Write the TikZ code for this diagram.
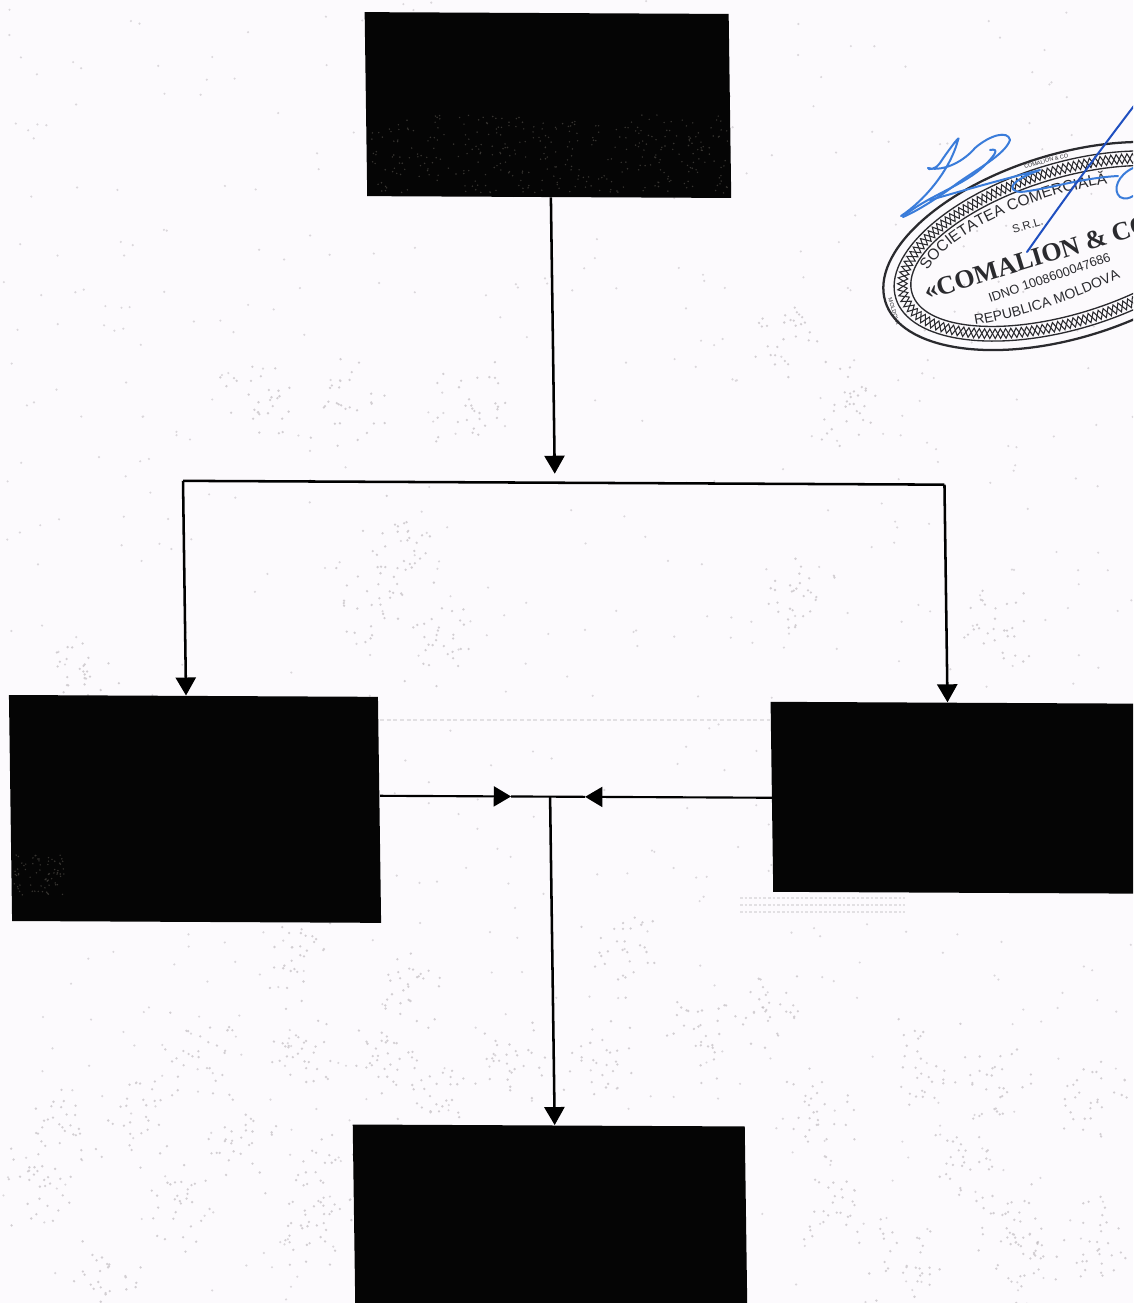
\documentclass[tikz,border=0pt]{standalone}
\usepackage{fontspec}
\setmainfont{Liberation Sans}
\newfontfamily\stampserif{Liberation Serif}
\usetikzlibrary{arrows.meta,decorations.text,decorations.pathmorphing}
\definecolor{paper}{HTML}{FCFAFD}
\definecolor{speck}{HTML}{A9A4A8}
\definecolor{boxink}{HTML}{050505}
\definecolor{boxspeck}{HTML}{5A5650}
\definecolor{sigblue}{HTML}{3A7CDA}
\definecolor{sigdeep}{HTML}{1F4FC0}
\definecolor{stampink}{HTML}{2A2A2E}
\tikzset{
  blackbox/.style={draw=none,fill=boxink,inner sep=0pt,rectangle,transform shape},
  conn/.style={draw=black,line width=1.9pt},
  connthin/.style={draw=black,line width=1.6pt},
  tip/.style={-{Triangle[length=13.5pt,width=15pt]}},
  stampline/.style={draw=stampink,line width=1pt},
  stamptext/.style={text=stampink,inner sep=0pt,transform shape},
  sigpen/.style={draw=sigblue,line width=1.5pt,line cap=round,line join=round},
}
\begin{document}
\begin{tikzpicture}[x=.75pt,y=-.75pt]
\useasboundingbox (0,0) rectangle (1133,1303);
\clip (0,0) rectangle (1133,1303);
\fill[paper] (0,0) rectangle (1133,1303);
% paper speckle
\pgfmathsetseed{4711}
\fill[speck,opacity=.4] \foreach \i in {1,...,700}{ ({1133*rnd},{1303*rnd}) circle[radius=1.2] };
\fill[speck,opacity=.5] \foreach \cx/\cy in {400/540,375/600,435/640,800/590,990/630,350/400,255/400,470/410,790/340,850/400,
  80/680,410/980,390/1060,770/1010,700/1040,1000/1090,1090/1100,920/1060,600/1060,510/1060,
  430/1100,300/1060,200/1050,60/1130,40/1180,180/1210,300/1230,100/1280,900/1260,1030/1260,
  1010/1220,960/1160,830/1200,1090/1240,240/1140,140/1120,330/1180,820/1110,620/950,300/960}{
  \foreach \j in {1,...,30}{
    ({\cx+42*(rnd-.5)+42*(rnd-.5)},{\cy+50*(rnd-.5)+50*(rnd-.5)}) circle[radius=1.3]
  }
};
% faint smudges
\draw[speck,opacity=.3,line width=1.6pt,dash pattern=on 3pt off 2pt] (380,720) -- (770,720);
\draw[speck,opacity=.3,line width=1.2pt,dash pattern=on 2pt off 1.5pt] (740,898) -- (905,898) (740,905) -- (905,905) (740,912) -- (905,912);
% the scan is slightly sheared: all boxes and connectors share that shear
\begin{scope}[cm={1,-0.005,-0.014,1,(0,0)}]
  \node[blackbox,minimum width=273pt,minimum height=138pt] (top) at (546.5,102.3) {};
  \node[blackbox,minimum width=276.75pt,minimum height=169.5pt] (left) at (183.7,808) {};
  \node[blackbox,minimum width=306pt,minimum height=142.5pt] (right) at (964.8,793) {};
  \node[blackbox,minimum width=294pt,minimum height=187.5pt] (bottom) at (533,1247.8) {};
  \coordinate (topout) at (548.2,102.3 |- top.south);
  \coordinate (toptip) at (548.2,471);
  \coordinate (busl) at (176.3,480);
  \coordinate (busr) at (937.8,480);
  \coordinate (lefttop) at (176.3,480 |- left.north);
  \coordinate (righttop) at (937.8,480 |- right.north);
  \coordinate (lefttip) at (369,794);
  \coordinate (leftend) at (500,794);
  \coordinate (righttip) at (761,794);
  \coordinate (rightend) at (574,794);
  \coordinate (join) at (539,794);
  \coordinate (bottomtop) at (539,480 |- bottom.north);
  \draw[conn,tip] (topout) -- (toptip);
  \draw[conn] (busl) -- (busr);
  \draw[conn,tip] (busl) -- (lefttop);
  \draw[conn,tip] (busr) -- (righttop);
  \draw[connthin,-{Triangle[length=13pt,width=15pt]}] (lefttip) -- (leftend);
  \draw[connthin,-{Triangle[length=13pt,width=15pt]}] (righttip) -- (rightend);
  \draw[connthin] (leftend) -- (rightend);
  \draw[conn,tip] (join) -- (bottomtop);
\end{scope}
% dither showing through the top box and the left box
\fill[boxspeck,opacity=.6] \foreach \j in {1,...,350}{ ({370+358*rnd},{115+78*rnd}) circle[radius=.8] };
\fill[boxspeck,opacity=.6] \foreach \j in {1,...,70}{ ({14+50*rnd},{855+40*rnd}) circle[radius=.8] };
% stamp
\begin{scope}[shift={(1067,246)},rotate=17]
  \draw[draw=stampink,line width=1.7pt] (0,0) ellipse[x radius=190,y radius=92];
  \draw[stampline] (0,0) ellipse[x radius=179,y radius=83];
  \draw[stampline] (0,0) ellipse[x radius=162,y radius=68];
  \draw[stampink,line width=.8pt,decorate,decoration={zigzag,segment length=8pt,amplitude=3.6pt}]
     (0,0) ellipse[x radius=170.5,y radius=75.5];
  \draw[stampink,line width=.8pt,decorate,decoration={zigzag,segment length=8pt,amplitude=3.6pt,mirror}]
     (0,0) ellipse[x radius=170.5,y radius=75.5];
  % small text of the outer ring
  \node[stamptext,font=\fontsize{4.2pt}{5pt}\selectfont,rotate=-3] (ringa) at (5,-87.5) {COMALION \& CO};
  \node[stamptext,font=\fontsize{4.2pt}{5pt}\selectfont,rotate=-90] (ringb) at (-184.5,12) {MOLDOVA};
  % main inscriptions
  \path[decorate,decoration={text along path,text align=left,
      text={|\fontsize{11.6pt}{13pt}\selectfont\color{stampink}|SOCIETATEA COMERCIALĂ}}]
     (-140.3,-16.9) arc[start angle=199,end angle=335,x radius=148,y radius=52];
  \path[decorate,decoration={text along path,text align=left,
      text={|\fontsize{10.5pt}{12pt}\selectfont\color{stampink}|REPUBLICA MOLDOVA}}]
     (-111,48.6) .. controls (-60,56) and (10,54) .. (90,38);
  \node[stamptext,font=\fontsize{8.5pt}{9pt}\selectfont] (srl) at (-31.7,-31) {S.R.L.};
  \node[stamptext,font=\fontsize{9.6pt}{10pt}\selectfont,rotate=2] (idno) at (-26,25) {IDNO 1008600047686};
  \node[stamptext,font=\fontsize{19.5pt}{21pt}\stampserif\bfseries,anchor=west] (name) at (-150,2) {«COMALION \& CO};
\end{scope}
% signature
\draw[sigpen] (901,216) .. controls (925,200) and (950,170) .. (958,140)
   .. controls (962,132) and (945,155) .. (940,163) .. controls (935,170) and (928,170) .. (928,168)
   .. controls (945,172) and (965,160) .. (975,148) .. controls (990,135) and (1008,130) .. (1010,140)
   .. controls (1005,155) and (975,170) .. (955,185) .. controls (935,200) and (915,212) .. (903,217);
\draw[sigpen] (905,215) .. controls (930,195) and (965,185) .. (985,165)
   .. controls (995,155) and (1000,148) .. (990,150);
\draw[sigpen] (930,200) .. controls (965,190) and (1000,180) .. (1040,170)
   .. controls (1012,180) and (1005,190) .. (1020,192) .. controls (1045,190) and (1080,178) .. (1118,176);
\draw[draw=sigdeep,line width=1.5pt,line cap=round] (1027,252) .. controls (1060,205) and (1100,150) .. (1140,98);
\draw[sigpen] (1133,168) .. controls (1118,175) and (1112,190) .. (1120,197) .. controls (1125,200) and (1130,198) .. (1133,196);
\end{tikzpicture}
\end{document}
